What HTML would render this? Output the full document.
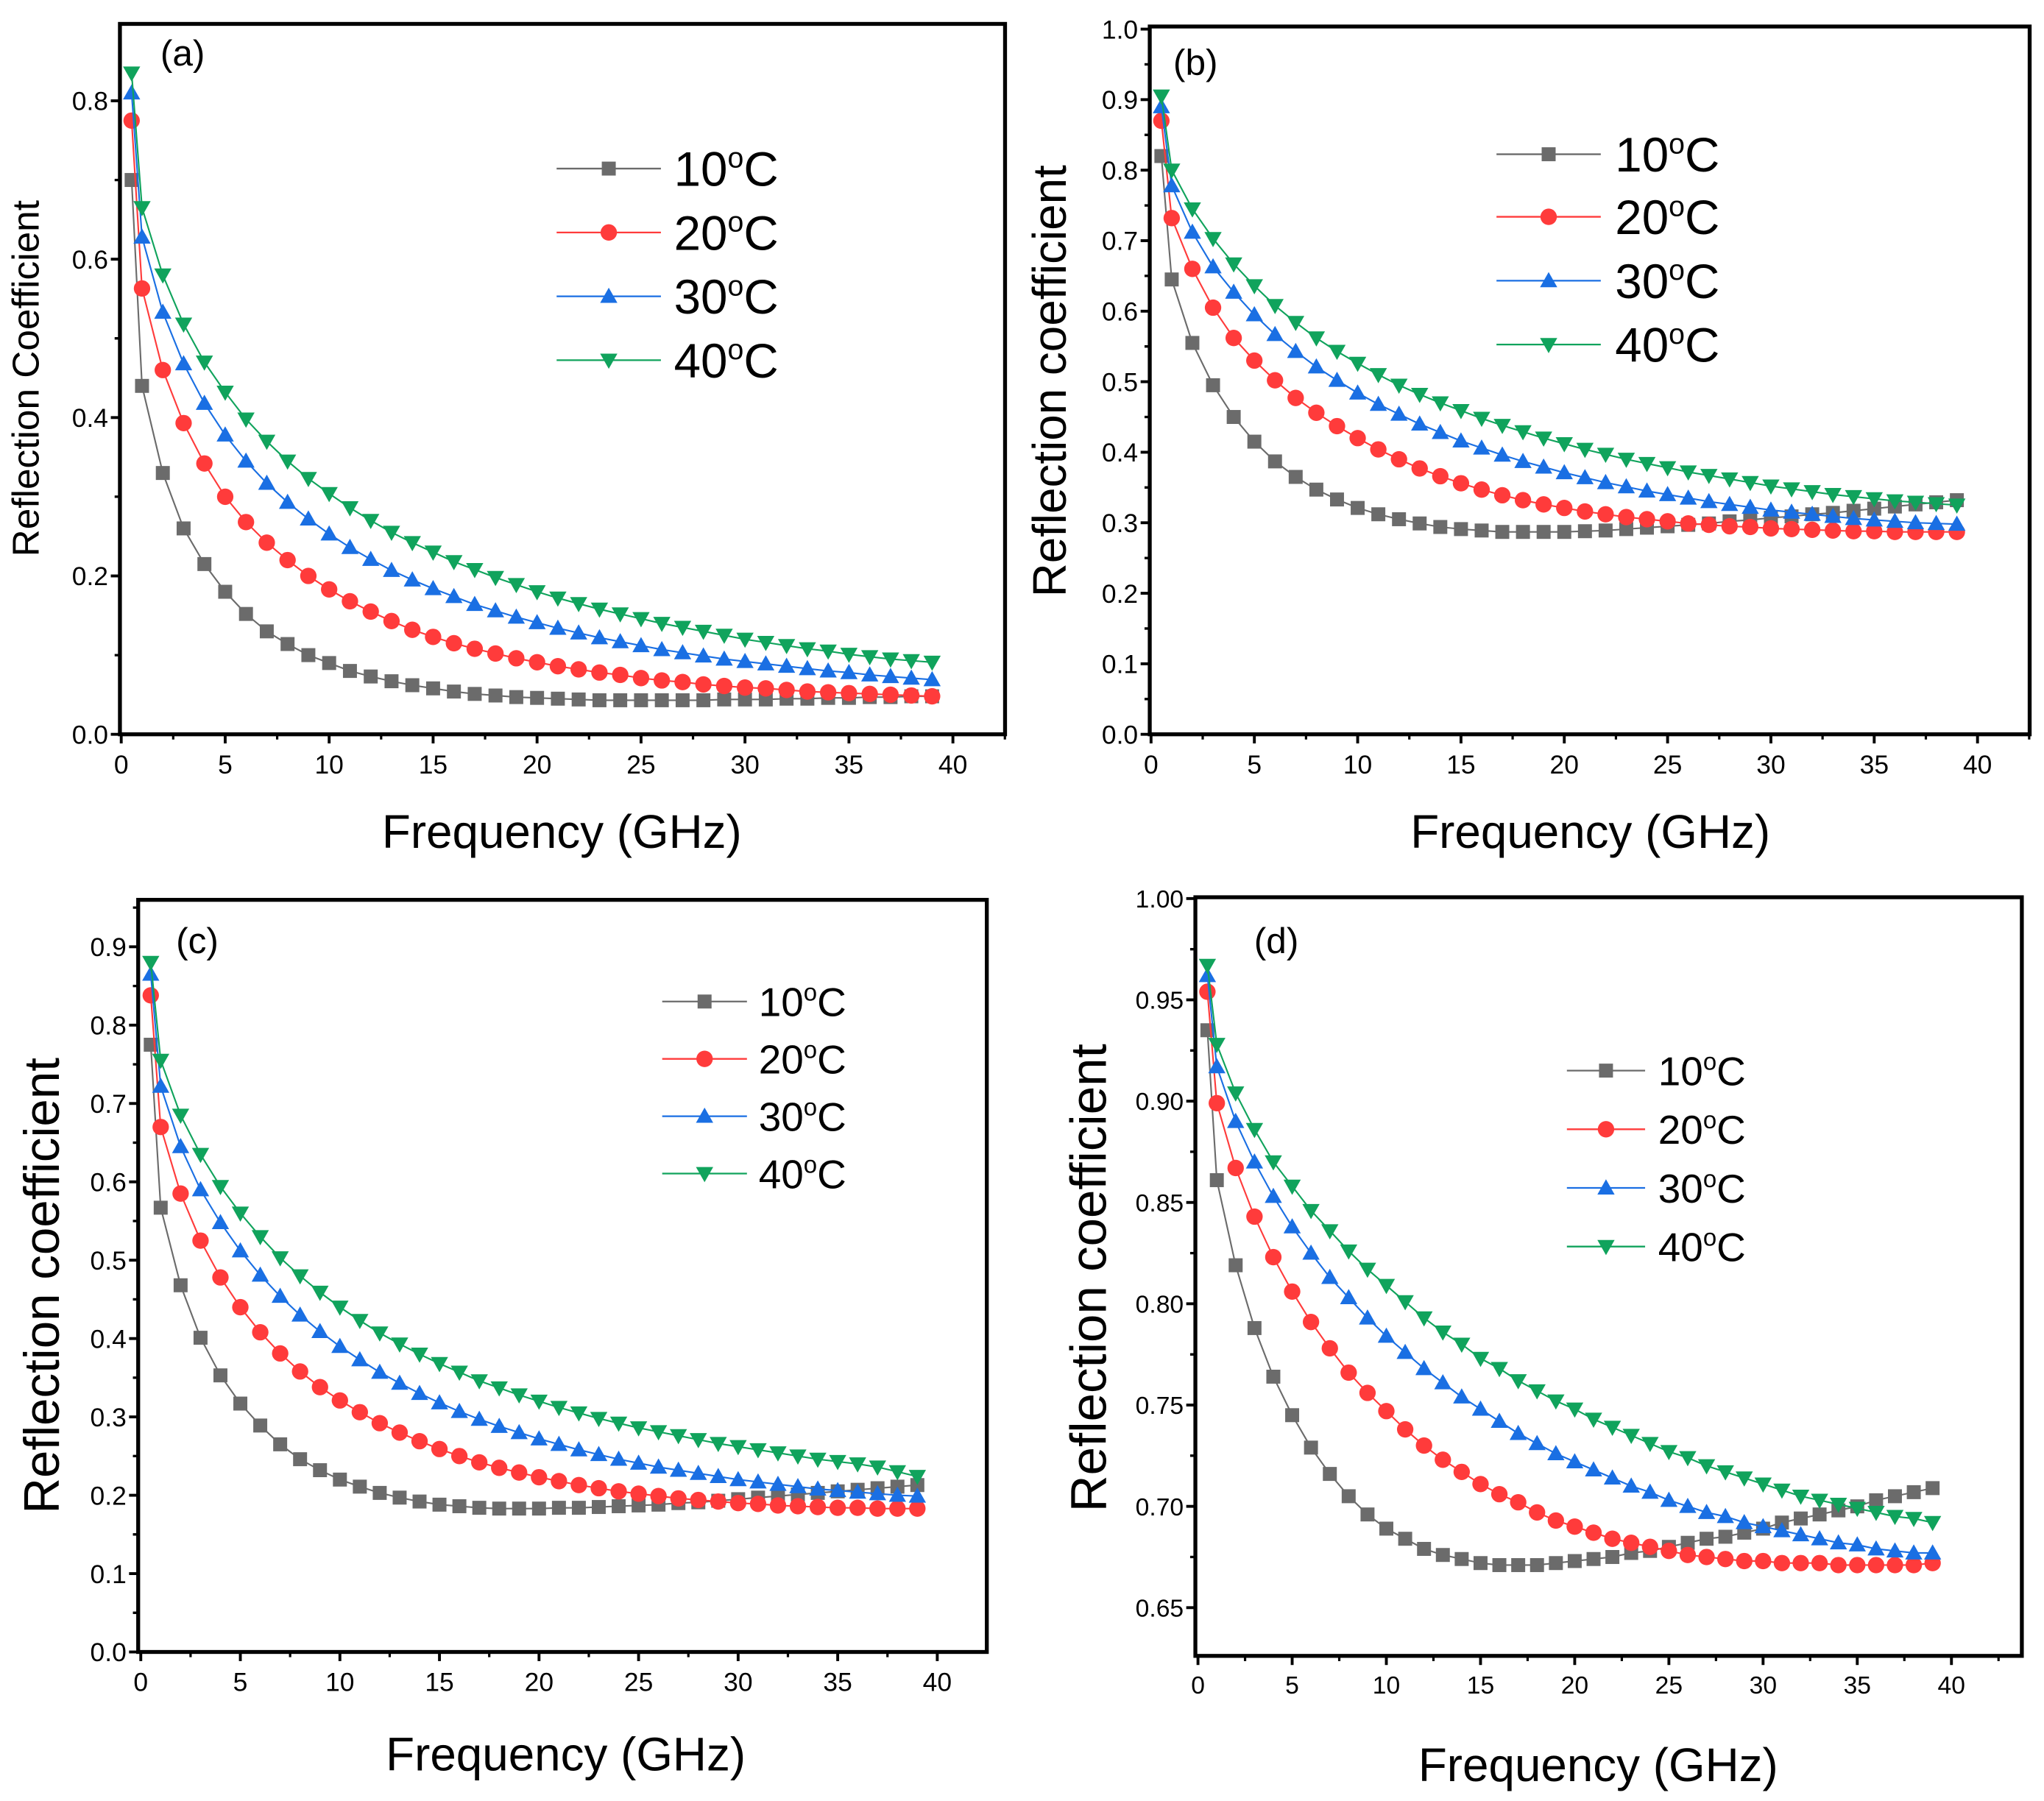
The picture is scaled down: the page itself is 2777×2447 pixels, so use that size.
<!DOCTYPE html>
<html><head><meta charset="utf-8"><style>
html,body{margin:0;padding:0;background:#fff}
svg{display:block;font-family:"Liberation Sans",sans-serif}
</style></head><body>
<svg id="fig" width="2777" height="2447" viewBox="0 0 1568 1381" xmlns="http://www.w3.org/2000/svg"></svg>
<script>
const freq=[0.5,1,2,3,4,5,6,7,8,9,10,11,12,13,14,15,16,17,18,19,20,21,22,23,24,25,26,27,28,29,30,31,32,33,34,35,36,37,38,39];
const seriesLabels=["10","20","30","40"];
const xTicks=[0,5,10,15,20,25,30,35,40];
const yTicksA=[0,0.2,0.4,0.6,0.8];
const yTicksB=[0,0.1,0.2,0.3,0.4,0.5,0.6,0.7,0.8,0.9,1.0];
const yTicksC=[0,0.1,0.2,0.3,0.4,0.5,0.6,0.7,0.8,0.9];
const yTicksD=[0.65,0.70,0.75,0.80,0.85,0.90,0.95,1.00];
const a10=[0.70,0.44,0.33,0.26,0.215,0.18,0.152,0.13,0.114,0.10,0.09,0.08,0.073,0.067,0.062,0.058,0.054,0.051,0.049,0.047,0.046,0.045,0.044,0.043,0.043,0.043,0.043,0.043,0.043,0.044,0.044,0.044,0.045,0.045,0.046,0.046,0.047,0.047,0.048,0.048];
const a20=[0.775,0.563,0.46,0.393,0.342,0.30,0.268,0.242,0.22,0.20,0.183,0.168,0.155,0.143,0.132,0.123,0.115,0.108,0.102,0.096,0.091,0.086,0.082,0.078,0.075,0.071,0.068,0.066,0.063,0.061,0.059,0.058,0.056,0.054,0.053,0.052,0.051,0.050,0.049,0.048];
const a30=[0.81,0.628,0.533,0.468,0.418,0.378,0.345,0.317,0.293,0.272,0.253,0.236,0.221,0.207,0.195,0.184,0.174,0.164,0.156,0.148,0.141,0.134,0.128,0.122,0.117,0.112,0.107,0.103,0.099,0.095,0.092,0.089,0.086,0.083,0.080,0.078,0.075,0.073,0.071,0.069];
const a40=[0.835,0.665,0.58,0.518,0.47,0.432,0.398,0.37,0.345,0.323,0.304,0.286,0.27,0.255,0.242,0.23,0.218,0.208,0.198,0.189,0.18,0.172,0.165,0.158,0.152,0.146,0.14,0.135,0.13,0.125,0.12,0.116,0.112,0.108,0.105,0.101,0.098,0.095,0.093,0.091];
const b10=[0.82,0.645,0.555,0.495,0.45,0.415,0.387,0.365,0.347,0.333,0.321,0.312,0.305,0.299,0.294,0.291,0.289,0.287,0.287,0.287,0.287,0.288,0.289,0.291,0.293,0.295,0.297,0.299,0.302,0.304,0.307,0.309,0.312,0.314,0.317,0.320,0.323,0.326,0.329,0.332];
const b20=[0.87,0.732,0.66,0.605,0.562,0.53,0.502,0.477,0.456,0.437,0.42,0.404,0.39,0.377,0.366,0.356,0.347,0.339,0.332,0.326,0.321,0.316,0.312,0.308,0.305,0.302,0.299,0.297,0.295,0.294,0.292,0.291,0.290,0.289,0.288,0.288,0.287,0.287,0.287,0.287];
const b30=[0.89,0.778,0.712,0.663,0.627,0.595,0.567,0.543,0.521,0.502,0.484,0.468,0.454,0.44,0.428,0.416,0.406,0.396,0.387,0.379,0.371,0.364,0.357,0.351,0.345,0.34,0.335,0.33,0.326,0.322,0.318,0.315,0.312,0.309,0.306,0.304,0.302,0.300,0.299,0.298];
const b40=[0.905,0.80,0.745,0.703,0.667,0.636,0.608,0.584,0.562,0.543,0.526,0.51,0.495,0.482,0.47,0.459,0.448,0.438,0.429,0.42,0.412,0.404,0.397,0.39,0.384,0.378,0.372,0.367,0.362,0.357,0.352,0.348,0.344,0.34,0.337,0.334,0.331,0.329,0.327,0.325];
const c10=[0.775,0.567,0.468,0.401,0.353,0.317,0.289,0.265,0.246,0.232,0.22,0.211,0.203,0.197,0.192,0.188,0.186,0.184,0.183,0.183,0.183,0.184,0.184,0.185,0.186,0.187,0.188,0.19,0.191,0.193,0.195,0.197,0.199,0.201,0.203,0.205,0.207,0.209,0.211,0.213];
const c20=[0.838,0.67,0.585,0.525,0.478,0.44,0.408,0.381,0.358,0.338,0.321,0.306,0.292,0.28,0.269,0.259,0.25,0.242,0.235,0.229,0.223,0.218,0.213,0.209,0.205,0.202,0.199,0.196,0.194,0.192,0.19,0.189,0.187,0.186,0.185,0.184,0.184,0.183,0.183,0.183];
const c30=[0.865,0.722,0.645,0.59,0.548,0.512,0.481,0.454,0.43,0.409,0.39,0.373,0.357,0.343,0.33,0.318,0.307,0.297,0.288,0.28,0.272,0.265,0.258,0.252,0.246,0.241,0.236,0.232,0.228,0.224,0.22,0.217,0.214,0.211,0.208,0.206,0.204,0.202,0.2,0.199];
const c40=[0.88,0.755,0.685,0.635,0.594,0.56,0.53,0.503,0.48,0.459,0.44,0.423,0.407,0.393,0.38,0.368,0.357,0.346,0.337,0.328,0.32,0.312,0.305,0.298,0.292,0.286,0.281,0.276,0.271,0.266,0.262,0.258,0.254,0.25,0.246,0.243,0.24,0.236,0.230,0.224];
const d10=[0.935,0.861,0.819,0.788,0.764,0.745,0.729,0.716,0.705,0.696,0.689,0.684,0.679,0.676,0.674,0.672,0.671,0.671,0.671,0.672,0.673,0.674,0.675,0.677,0.678,0.680,0.682,0.684,0.685,0.687,0.689,0.692,0.694,0.696,0.698,0.700,0.703,0.705,0.707,0.709];
const d20=[0.954,0.899,0.867,0.843,0.823,0.806,0.791,0.778,0.766,0.756,0.747,0.738,0.73,0.723,0.717,0.711,0.706,0.702,0.697,0.693,0.69,0.687,0.684,0.682,0.68,0.678,0.676,0.675,0.674,0.673,0.673,0.672,0.672,0.672,0.671,0.671,0.671,0.671,0.671,0.672];
const d30=[0.962,0.917,0.89,0.87,0.853,0.838,0.825,0.813,0.803,0.793,0.784,0.776,0.768,0.761,0.754,0.748,0.742,0.736,0.731,0.726,0.722,0.718,0.714,0.71,0.707,0.703,0.7,0.697,0.695,0.692,0.69,0.688,0.686,0.684,0.682,0.681,0.679,0.678,0.677,0.677];
const d40=[0.967,0.928,0.904,0.886,0.87,0.858,0.846,0.836,0.826,0.817,0.809,0.801,0.793,0.786,0.78,0.773,0.768,0.762,0.757,0.752,0.748,0.743,0.739,0.735,0.731,0.727,0.724,0.72,0.717,0.714,0.711,0.708,0.705,0.703,0.701,0.699,0.697,0.695,0.694,0.692];

const NS="http://www.w3.org/2000/svg";
const svg=document.getElementById('fig');
const colors=["#6b6b6b","#ff3b3b","#1a6fe3","#10a35c"];
const shapes=["square","circle","up","down"];
function mk(tag,attrs,parent){const e=document.createElementNS(NS,tag);for(const k in attrs)e.setAttribute(k,attrs[k]);(parent||svg).appendChild(e);return e;}
function marker(g,shape,x,y,r,col){
  let e;
  if(shape==="square")e=mk('rect',{x:x-r*0.85,y:y-r*0.85,width:r*1.7,height:r*1.7,fill:col},g);
  else if(shape==="circle")e=mk('circle',{cx:x,cy:y,r:r,fill:col},g);
  else if(shape==="up")e=mk('polygon',{points:`${x-r*1.05},${y+r*0.8} ${x+r*1.05},${y+r*0.8} ${x},${y-r*1.05}`,fill:col},g);
  else e=mk('polygon',{points:`${x-r*1.05},${y-r*0.8} ${x+r*1.05},${y-r*0.8} ${x},${y+r*1.05}`,fill:col},g);
  return e;
}
function panel(p){
  const g=mk('g',{});
  
  
  const X=v=>p.x0+(v-0)*(p.x40-p.x0)/40;
  const Y=v=>p.yA+(v-p.vA)*(p.yB-p.yA)/(p.vB-p.vA);
  p.data.forEach((arr,si)=>{
    const sg=mk('g',{},g);
    
    
    const pts=arr.map((v,i)=>X(freq[i]).toFixed(2)+','+Y(v).toFixed(2)).join(' ');
    const pl=mk('polyline',{points:pts,fill:'none',stroke:colors[si],'stroke-width':1.2},sg);
    
    
    arr.forEach((v,i)=>{
      const m=marker(sg,shapes[si],X(freq[i]),Y(v),p.mr,colors[si]);
      
      
    });
  });
  const fr=mk('rect',{x:p.L,y:p.T,width:p.R-p.L,height:p.B-p.T,fill:'none',stroke:'#000','stroke-width':3},g);
  
  
  xTicks.forEach((t,i)=>{
    const x=X(t);
    mk('line',{x1:x,y1:p.B,x2:x,y2:p.B+7,stroke:'#000','stroke-width':2.2},g);
    const xm=X(t+2.5);
    if(xm<p.R) mk('line',{x1:xm,y1:p.B,x2:xm,y2:p.B+4,stroke:'#000','stroke-width':1.8},g);
    const tx=mk('text',{x:x,y:p.B+p.tf+10,'font-size':p.tf,'text-anchor':'middle',fill:'#000'},g);
    tx.textContent=t;
    
    
  });
  const step=p.yt[1]-p.yt[0];
  p.yt.forEach(t=>{
    const y=Y(t);
    mk('line',{x1:p.L-7,y1:y,x2:p.L,y2:y,stroke:'#000','stroke-width':2.2},g);
    const ym=Y(t+step/2);
    if(ym>p.T) mk('line',{x1:p.L-4,y1:ym,x2:p.L,y2:ym,stroke:'#000','stroke-width':1.8},g);
    const ym2=Y(t-step/2);
    if(ym2<p.B) mk('line',{x1:p.L-4,y1:ym2,x2:p.L,y2:ym2,stroke:'#000','stroke-width':1.8},g);
    const ty=mk('text',{x:p.L-9,y:y+p.tf*0.36,'font-size':p.tf,'text-anchor':'end',fill:'#000'},g);
    ty.textContent=t.toFixed(p.dec);
    
    
  });
  const xt=mk('text',{x:p.xtX,y:p.xtY,'font-size':36,'text-anchor':'middle',fill:'#000'},g);
  xt.textContent='Frequency (GHz)';
  
  
  const yc=p.ytC;
  const yt=mk('text',{x:p.ytX,y:yc,'font-size':p.ytF,'text-anchor':'middle','dominant-baseline':'middle',fill:'#000',transform:`rotate(-90 ${p.ytX} ${yc})`},g);
  yt.textContent=p.ytitle;
  
  
  const pl=mk('text',{x:p.plX,y:p.plY,'font-size':28,fill:'#000'},g);
  pl.textContent='('+p.id+')';
  
  
  const lg=mk('g',{},g);
  
  
  p.lgY.forEach((ly,si)=>{
    const eg=mk('g',{},lg);
    
    
    mk('line',{x1:p.lgX1,y1:ly,x2:p.lgX2,y2:ly,stroke:colors[si],'stroke-width':1.3},eg);
    marker(eg,shapes[si],(p.lgX1+p.lgX2)/2,ly,p.mr,colors[si]);
    const t=mk('text',{x:p.lgT,y:ly+p.lf*0.36,'font-size':p.lf,fill:'#000'},eg);
    t.innerHTML=seriesLabels[si]+'<tspan dy="'+(-p.lf*0.38)+'" font-size="'+(p.lf*0.6)+'">o</tspan><tspan dy="'+(p.lf*0.38)+'">C</tspan>';
  });
}
panel({id:'a',L:92,R:771,T:18,B:563,x0:93,x40:731,vA:0,yA:563,vB:0.8,yB:77,yt:yTicksA,dec:1,tf:20,mr:6.3,
  data:[a10,a20,a30,a40],xtX:431,xtY:650,ytX:22,ytC:290,ytF:29,ytitle:'Reflection Coefficient',plX:123,plY:50,
  lgX1:427,lgX2:507,lgT:517,lgY:[129,178,227,276],lf:37});
panel({id:'b',L:882,R:1557,T:20,B:563,x0:883,x40:1517,vA:0,yA:563,vB:1.0,yB:22,yt:yTicksB,dec:1,tf:20,mr:6.3,
  data:[b10,b20,b30,b40],xtX:1220,xtY:650,ytX:808,ytC:292,ytF:36,ytitle:'Reflection coefficient',plX:900,plY:57,
  lgX1:1148,lgX2:1228,lgT:1239,lgY:[118,166,215,264],lf:37});
panel({id:'c',L:106,R:757,T:690,B:1267,x0:108,x40:719,vA:0,yA:1267,vB:0.9,yB:726,yt:yTicksC,dec:1,tf:20,mr:6.3,
  data:[c10,c20,c30,c40],xtX:434,xtY:1358,ytX:35,ytC:986,ytF:38,ytitle:'Reflection coefficient',plX:135,plY:731,
  lgX1:508,lgX2:573,lgT:582,lgY:[768,812,856,900],lf:31});
panel({id:'d',L:917,R:1551,T:688,B:1270,x0:919,x40:1497,vA:0.65,yA:1233,vB:1.0,yB:689,yt:yTicksD,dec:2,tf:19,mr:6.3,
  data:[d10,d20,d30,d40],xtX:1226,xtY:1366,ytX:838,ytC:980,ytF:39,ytitle:'Reflection coefficient',plX:962,plY:731,
  lgX1:1202,lgX2:1262,lgT:1272,lgY:[821,866,911,956],lf:31});
</script>
</body></html>
